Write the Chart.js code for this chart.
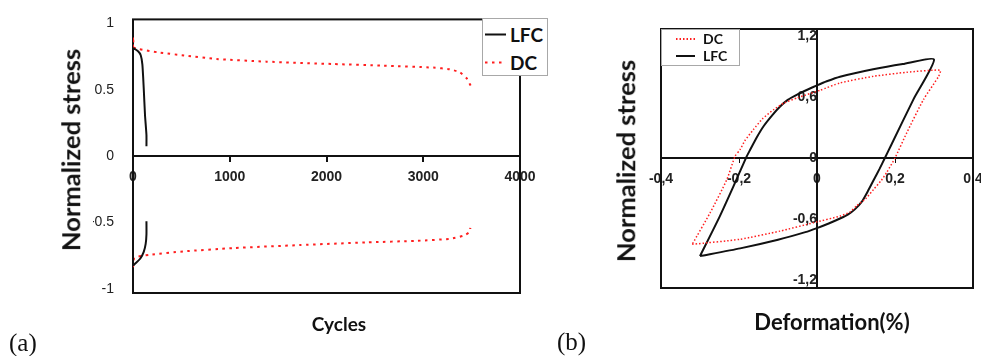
<!DOCTYPE html>
<html>
<head>
<meta charset="utf-8">
<script src="https://cdn.jsdelivr.net/npm/chart.js@4.4.1/dist/chart.umd.min.js"></script>
<style>
  html, body { margin: 0; padding: 0; background: #fff; }
  #page { position: relative; width: 981px; height: 356px; overflow: hidden; }
  canvas { position: absolute; top: 0; }
  #chartA { left: 0; }
  #chartB { left: 560px; }
  .title { position: absolute; font-family: Lato, sans-serif; font-weight: bold; color: #111; white-space: nowrap; line-height: 1; }
  .ytitle { transform: translate(-50%, -50%) rotate(-90deg); }
  .xtitle { transform: translate(-50%, -50%); }
  .panel { position: absolute; font-family: "Liberation Serif", serif; font-size: 25px; color: #111; line-height: 1; transform: translateY(-50%); }
  .legend { position: absolute; background: #fff; border: 1px solid #a8a8a8; box-sizing: border-box; font-family: Lato, sans-serif; font-weight: bold; color: #111; }
  .legend .row { position: absolute; left: 0; display: flex; align-items: center; line-height: 1; transform: translateY(-50%); }
  .legend svg { display: block; }
</style>
</head>
<body>
<div id="page">
  <canvas id="chartA" width="540" height="356"></canvas>
  <canvas id="chartB" width="421" height="356"></canvas>

  <div class="title ytitle" style="left:71px; top:150px; font-size:25.5px;">Normalized stress</div>
  <div class="title xtitle" style="left:339px; top:323px; font-size:19px;">Cycles</div>
  <div class="title ytitle" style="left:626px; top:161px; font-size:25.5px;">Normalized stress</div>
  <div class="title xtitle" style="left:832px; top:322px; font-size:22px;">Deformation(%)</div>
  <div class="panel" style="left:9px; top:342px;">(a)</div>
  <div class="panel" style="left:557px; top:341px;">(b)</div>

  <div class="legend" id="legendA" style="left:482px; top:18px; width:66px; height:58px;"></div>
  <div class="legend" id="legendB" style="left:661px; top:29px; width:79px; height:37px;"></div>
</div>

<script>
// ---- panel (a): stress envelope vs cycles ----
const cyclesTicks = [0, 1000, 2000, 3000, 4000];
const cyclesTickLabels = ['0', '1000', '2000', '3000', '4000'];
const stressTicksA = [-1, -0.5, 0, 0.5, 1];
const stressTickLabelsA = ['-1', '-0.5', '0', '0.5', '1'];

const lfcUpperCycles = [0, 52, 80, 97, 111, 124, 139, 139];
const lfcUpperStress = [0.81, 0.79, 0.76, 0.69, 0.51, 0.31, 0.16, 0.075];
const lfcLowerCycles = [0, 35, 76, 111, 131, 139, 139];
const lfcLowerStress = [-0.82, -0.80, -0.77, -0.72, -0.66, -0.59, -0.49];

const dcUpperCycles = [0, 10, 35, 276, 552, 862, 1380, 2069, 2586, 3103, 3276, 3379, 3448, 3490];
const dcUpperStress = [0.90, 0.82, 0.81, 0.78, 0.757, 0.732, 0.712, 0.694, 0.682, 0.667, 0.654, 0.631, 0.587, 0.532];
const dcLowerCycles = [0, 15, 173, 517, 1034, 1724, 2414, 2931, 3276, 3414, 3483, 3486];
const dcLowerStress = [-0.84, -0.765, -0.742, -0.717, -0.692, -0.669, -0.649, -0.637, -0.622, -0.599, -0.569, -0.54];

// ---- panel (b): hysteresis loops ----
const deformTicks = [-0.4, -0.2, 0, 0.2, 0.4];
const deformTickLabels = ['-0,4', '-0,2', '0', '0,2', '0,4'];
const stressTicksB = [-1.2, -0.6, 0, 0.6, 1.2];
const stressTickLabelsB = ['-1,2', '-0,6', '0', '0,6', '1,2'];

const lfcLoopDeform = [-0.30, -0.197, -0.10, -0.03, 0.0, 0.03, 0.059, 0.08, 0.097, 0.115, 0.13, 0.145, 0.16, 0.174, 0.19, 0.247, 0.30,
  0.22, 0.144, 0.059, 0.025, 0.0, -0.025, -0.051, -0.075, -0.094, -0.115, -0.137, -0.155, -0.171, -0.18, -0.214, -0.249, -0.30];
const lfcLoopStress = [-0.966, -0.89, -0.805, -0.73, -0.69, -0.645, -0.596, -0.555, -0.506, -0.43, -0.33, -0.22, -0.11, 0.0, 0.125, 0.575, 0.969,
  0.925, 0.873, 0.80, 0.755, 0.715, 0.672, 0.624, 0.572, 0.509, 0.42, 0.313, 0.20, 0.084, 0.018, -0.277, -0.572, -0.966];

const dcLoopDeform = [-0.32, -0.197, -0.095, -0.009, 0.059, 0.085, 0.102, 0.125, 0.145, 0.165, 0.179, 0.2, 0.23, 0.273, 0.312, 0.316,
  0.23, 0.145, 0.059, 0.008, -0.051, -0.085, -0.111, -0.14, -0.163, -0.185, -0.197, -0.21, -0.231, -0.274, -0.32];
const dcLoopStress = [-0.85, -0.80, -0.72, -0.637, -0.572, -0.53, -0.47, -0.40, -0.31, -0.22, -0.14, 0.0, 0.247, 0.575, 0.805, 0.864,
  0.844, 0.804, 0.739, 0.667, 0.592, 0.54, 0.477, 0.385, 0.28, 0.17, 0.084, 0.018, -0.211, -0.539, -0.85];

const BLACK = '#111';
const RED = 'rgb(255,30,30)';
const tickFont = { family: 'Liberation Sans, Arial, sans-serif', size: 14, weight: 'bold' };

function toPoints(xs, ys) {
  return xs.map((x, i) => ({ x, y: ys[i] }));
}

// upper envelope walked backwards, then the lower one: gives the vertical line at cycle 0
function envelope(upX, upY, lowX, lowY) {
  return toPoints(upX, upY).reverse().concat(toPoints(lowX, lowY));
}

const framePlugin = {
  id: 'frame',
  beforeDatasetsDraw(chart) {
    const { ctx, chartArea: a } = chart;
    ctx.save();
    ctx.strokeStyle = BLACK;
    ctx.lineWidth = 2;
    ctx.strokeRect(a.left, a.top, a.right - a.left, a.bottom - a.top);
    ctx.restore();
  }
};

function fixedTicks(values) {
  return s => { s.ticks = values.map(v => ({ value: v })); };
}

new Chart(document.getElementById('chartA'), {
  type: 'scatter',
  data: {
    datasets: [
      {
        label: 'LFC',
        data: envelope(lfcUpperCycles, lfcUpperStress, lfcLowerCycles, lfcLowerStress),
        showLine: true, borderColor: BLACK, borderWidth: 2, pointRadius: 0, tension: 0.2
      },
      {
        label: 'DC',
        data: envelope(dcUpperCycles, dcUpperStress, dcLowerCycles, dcLowerStress),
        showLine: true, borderColor: RED, borderWidth: 2, borderDash: [2.5, 4.5], pointRadius: 0, tension: 0.2
      }
    ]
  },
  options: {
    responsive: false,
    animation: false,
    devicePixelRatio: 1,
    layout: { padding: { left: 93, right: 20, top: 18, bottom: 63 } },
    plugins: { legend: { display: false }, tooltip: { enabled: false } },
    scales: {
      x: {
        type: 'linear',
        position: { y: 0 },
        min: 0,
        max: 4000,
        afterBuildTicks: fixedTicks(cyclesTicks),
        afterFit: s => { s.paddingLeft = 0; s.paddingRight = 0; },
        ticks: {
          callback: (v, i) => cyclesTickLabels[i],
          font: tickFont, color: '#222', padding: 8, maxRotation: 0, autoSkip: false
        },
        grid: { drawOnChartArea: false, tickLength: 5, color: BLACK, lineWidth: 2 },
        border: { color: BLACK, width: 2 }
      },
      y: {
        type: 'linear',
        position: 'left',
        min: -1.03,
        max: 1.03,
        afterBuildTicks: fixedTicks(stressTicksA),
        afterFit: s => { s.width = 40; },
        ticks: {
          callback: (v, i) => stressTickLabelsA[i],
          font: { family: 'Liberation Sans, Arial, sans-serif', size: 14 },
          color: '#222',
          padding: 11
        },
        grid: { display: false },
        border: { display: false }
      }
    }
  },
  plugins: [framePlugin]
});

new Chart(document.getElementById('chartB'), {
  type: 'scatter',
  data: {
    datasets: [
      {
        label: 'DC',
        data: toPoints(dcLoopDeform, dcLoopStress),
        showLine: true, borderColor: RED, borderWidth: 1.5, borderDash: [1.5, 2], pointRadius: 0, tension: 0.2
      },
      {
        label: 'LFC',
        data: toPoints(lfcLoopDeform, lfcLoopStress),
        showLine: true, borderColor: BLACK, borderWidth: 2, pointRadius: 0, tension: 0.2
      }
    ]
  },
  options: {
    responsive: false,
    animation: false,
    devicePixelRatio: 1,
    layout: { padding: { left: 101, right: 8, top: 29, bottom: 68 } },
    plugins: { legend: { display: false }, tooltip: { enabled: false } },
    scales: {
      x: {
        type: 'linear',
        position: { y: 0 },
        min: -0.4,
        max: 0.4,
        afterBuildTicks: fixedTicks(deformTicks),
        afterFit: s => { s.paddingLeft = 0; s.paddingRight = 0; },
        ticks: {
          callback: (v, i) => deformTickLabels[i],
          font: tickFont, color: '#222', padding: 9, maxRotation: 0, autoSkip: false
        },
        grid: { drawOnChartArea: false, tickLength: 4, color: BLACK, lineWidth: 1 },
        border: { color: BLACK, width: 2 }
      },
      y: {
        type: 'linear',
        position: { x: 0 },
        min: -1.28,
        max: 1.27,
        afterBuildTicks: fixedTicks(stressTicksB),
        ticks: {
          callback: (v, i) => stressTickLabelsB[i],
          font: tickFont, color: '#222', padding: 0
        },
        grid: { drawOnChartArea: false, drawTicks: false },
        border: { color: BLACK, width: 2 }
      }
    }
  },
  plugins: [framePlugin]
});

// html legends, built from the datasets
function buildLegend(el, chart, opts) {
  chart.data.datasets.forEach((ds, i) => {
    const row = document.createElement('div');
    row.className = 'row';
    row.style.top = opts.rows[i] + 'px';
    row.style.left = opts.sampleLeft + 'px';
    row.style.fontSize = opts.fontSize + 'px';
    const dash = ds.borderDash ? ds.borderDash.join(' ') : 'none';
    row.innerHTML =
      `<svg width="${opts.sampleWidth}" height="6"><line x1="0" y1="3" x2="${opts.sampleWidth}" y2="3" ` +
      `stroke="${ds.borderColor}" stroke-width="${opts.sampleStroke}" stroke-dasharray="${dash}"/></svg>` +
      `<span style="margin-left:${opts.gap}px">${ds.label}</span>`;
    el.appendChild(row);
  });
}

const chartA = Chart.getChart('chartA');
const chartB = Chart.getChart('chartB');
buildLegend(document.getElementById('legendA'), chartA,
  { rows: [15, 43], sampleLeft: 2, sampleWidth: 21, sampleStroke: 2, gap: 4, fontSize: 19 });
buildLegend(document.getElementById('legendB'), chartB,
  { rows: [9, 26], sampleLeft: 14, sampleWidth: 19, sampleStroke: 2, gap: 8, fontSize: 14 });
</script>
</body>
</html>
